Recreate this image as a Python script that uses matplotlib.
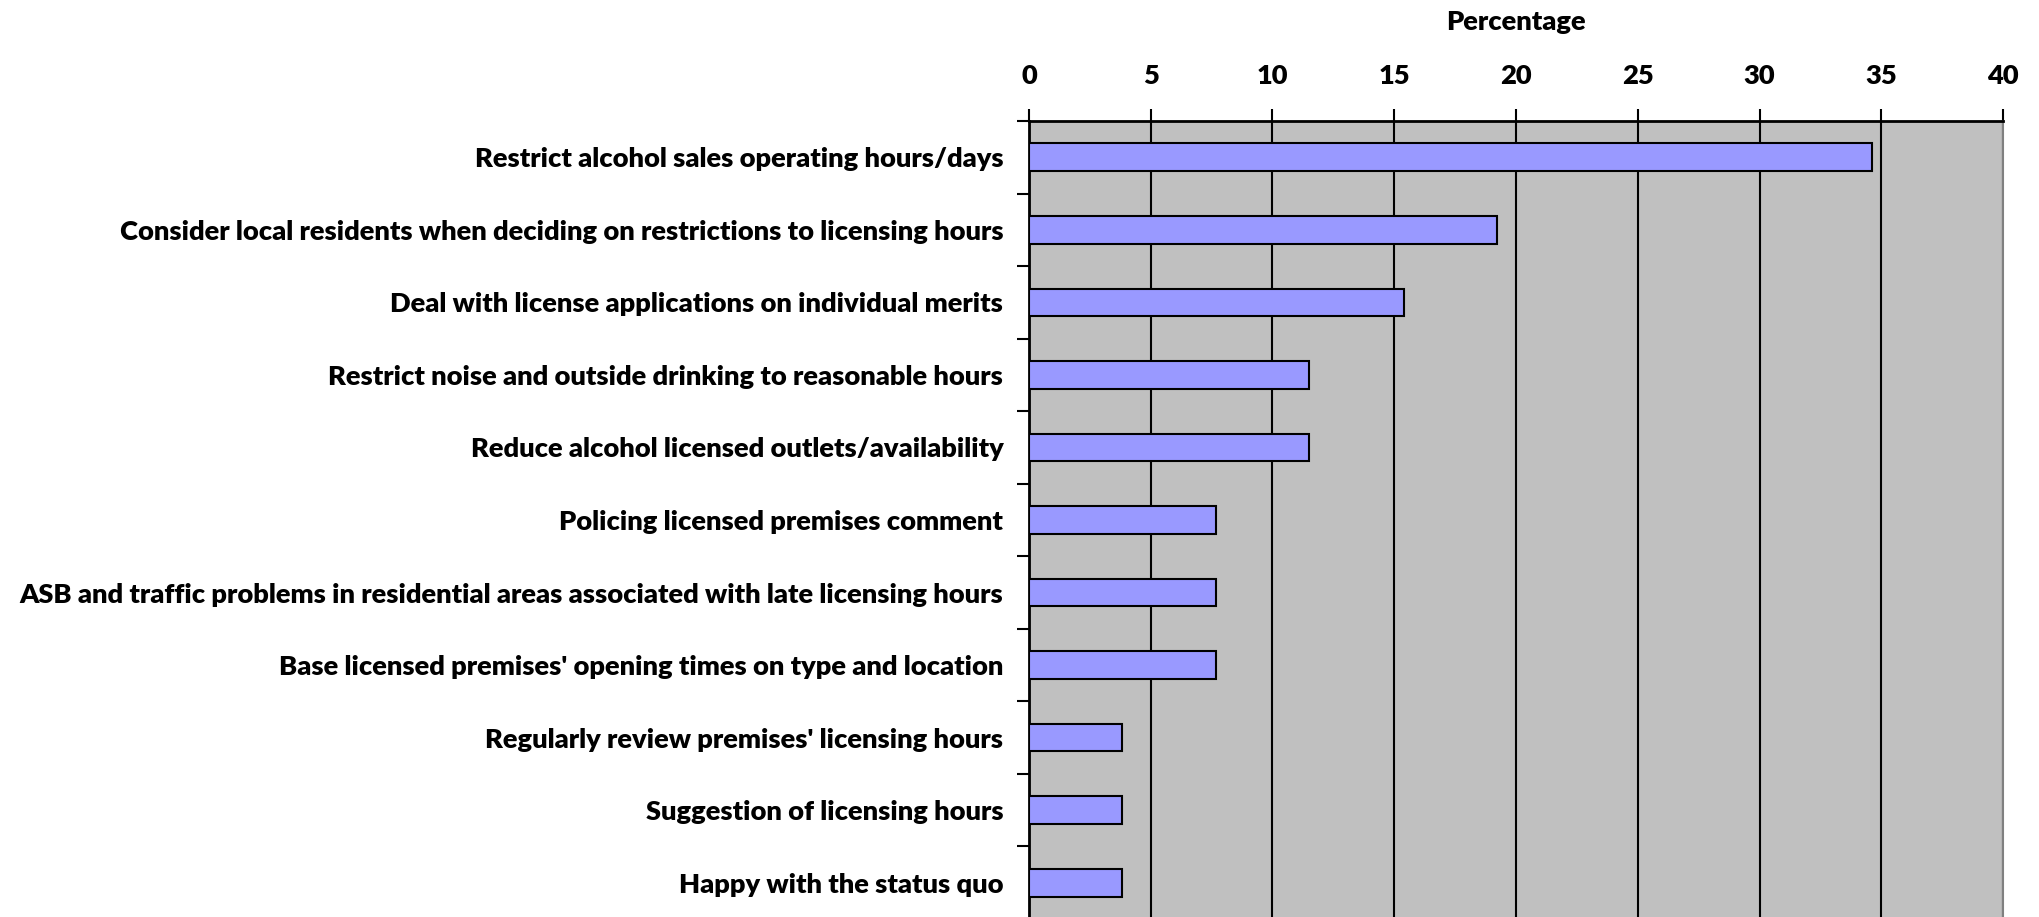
import matplotlib
matplotlib.use("Agg")
import matplotlib.pyplot as plt
from matplotlib.ticker import FixedLocator

categories = [
    "Restrict alcohol sales operating hours/days",
    "Consider local residents when deciding on restrictions to licensing hours",
    "Deal with license applications on individual merits",
    "Restrict noise and outside drinking to reasonable hours",
    "Reduce alcohol licensed outlets/availability",
    "Policing licensed premises comment",
    "ASB and traffic problems in residential areas associated with late licensing hours",
    "Base licensed premises' opening times on type and location",
    "Regularly review premises' licensing hours",
    "Suggestion of licensing hours",
    "Happy with the status quo",
]
values = [34.6, 19.2, 15.4, 11.5, 11.5, 7.7, 7.7, 7.7, 3.8, 3.8, 3.8]
xticks = [0, 5, 10, 15, 20, 25, 30, 35, 40]
xlabel = "Percentage"

W, H = 2040, 917
fig = plt.figure(figsize=(W / 100, H / 100), dpi=100)
font = ["Lato", "DejaVu Sans"]
fs = 19.6
fw = "heavy"

left, right, top, bottom = 1029, 2003, 121, 919
ax = fig.add_axes([left / W, (H - bottom) / H, (right - left) / W, (bottom - top) / H])
ax.set_facecolor("#C0C0C0")

n = len(categories)
ypos = list(range(n))
ax.barh(ypos, values, height=0.38, color="#9999FF", edgecolor="black", linewidth=1.5, zorder=3)
ax.set_ylim(n - 0.5, -0.5)
ax.set_xlim(0, 40)

ax.xaxis.tick_top()
ax.xaxis.set_label_position("top")
ax.set_xticks(xticks)
ax.set_xticklabels([str(t) for t in xticks], fontsize=fs, fontweight=fw, family=font)
ax.set_xlabel(xlabel, fontsize=fs, fontweight=fw, family=font, labelpad=24.5)
ax.tick_params(axis="x", direction="out", length=9, width=1.5, pad=14.5, colors="black")
ax.grid(axis="x", color="black", linewidth=1.5, zorder=1)
ax.set_axisbelow(True)

ax.set_yticks(ypos)
ax.set_yticklabels(categories, fontsize=fs, fontweight=fw, family=font)
ax.yaxis.set_minor_locator(FixedLocator([i + 0.5 for i in range(-1, n)]))
ax.tick_params(axis="y", which="major", length=0, pad=18.5)
ax.tick_params(axis="y", which="minor", direction="out", length=9, width=1.5)

for s in ["top", "left"]:
    ax.spines[s].set_linewidth(2)
    ax.spines[s].set_color("black")
ax.spines["right"].set_color("#808080")
ax.spines["right"].set_linewidth(1.5)
ax.spines["bottom"].set_visible(False)

fig.savefig("out.png", dpi=100)
